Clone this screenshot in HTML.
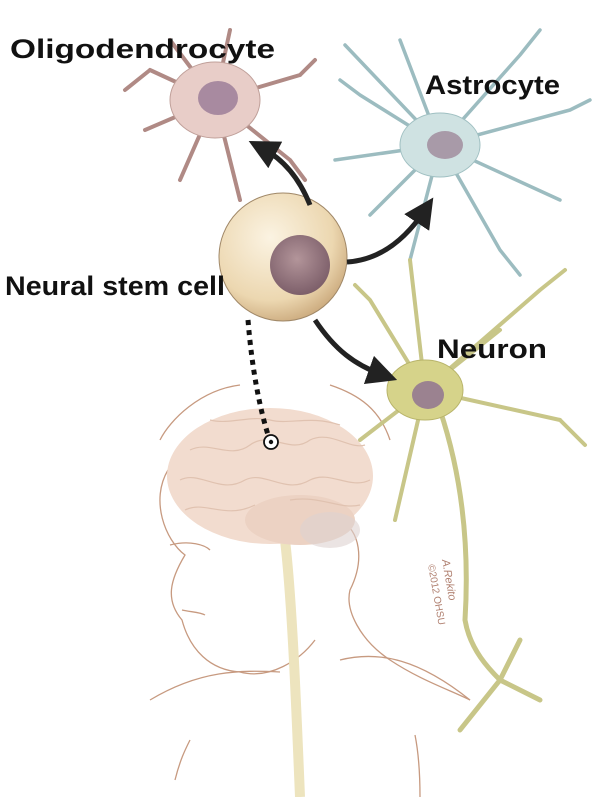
<!DOCTYPE html>
<html><head><meta charset="utf-8"><style>
html,body{margin:0;padding:0;background:#fff;}
svg{display:block}
text{font-family:"Liberation Sans",sans-serif;font-weight:bold;fill:#111}
</style></head><body>
<svg width="600" height="797" viewBox="0 0 600 797" xmlns="http://www.w3.org/2000/svg">
<defs>
<radialGradient id="sc" cx="0.4" cy="0.35" r="0.7"><stop offset="0" stop-color="#fbf3e2"/><stop offset="0.7" stop-color="#ecd7b0"/><stop offset="1" stop-color="#c9a77a"/></radialGradient>
<radialGradient id="nu" cx="0.45" cy="0.4" r="0.6"><stop offset="0" stop-color="#b3959a"/><stop offset="1" stop-color="#7d5f6a"/></radialGradient>
<marker id="ah" markerWidth="6" markerHeight="6" refX="3" refY="3" orient="auto" markerUnits="strokeWidth"><path d="M0,0 L6,3 L0,6 Z" fill="#222"/></marker>
</defs>
<g fill="none" stroke="#c79a80" stroke-width="1.3">
<path d="M168,470 C150,500 165,540 185,555 C170,580 165,600 182,620 C190,650 210,670 240,672 C270,680 300,660 315,640"/>
<path d="M340,520 C360,530 365,560 350,590 C345,610 360,640 390,660 C420,680 450,690 470,700"/>
<path d="M150,700 C200,670 240,670 280,672 M340,660 C380,650 420,660 470,700"/>
<path d="M175,780 C180,760 185,750 190,740 M420,797 C420,770 418,750 415,735"/>
<path d="M170,545 C190,540 205,545 210,550 M182,610 C190,612 200,612 205,615"/>
<path d="M160,440 C170,420 200,390 240,385 M330,385 C360,395 380,410 390,440"/>
</g>
<path d="M285,540 C292,600 296,700 300,797" stroke="#ede4be" stroke-width="10" fill="none"/>
<ellipse cx="270" cy="476" rx="103" ry="68" fill="#f2dccf"/>
<ellipse cx="300" cy="520" rx="55" ry="25" fill="#ecd2c3"/>
<g fill="none" stroke="#e0c2b0" stroke-width="1.2">
<path d="M190,450 C210,440 230,460 250,445 C270,430 290,455 310,440 C330,430 350,450 365,445"/>
<path d="M180,480 C200,470 220,495 245,480 C265,470 285,495 310,480 C330,470 350,490 370,480"/>
<path d="M185,510 C205,500 225,520 255,505 M290,500 C320,495 340,510 360,505"/>
<path d="M210,420 C230,425 250,415 270,420 C290,425 310,415 340,425"/>
</g>
<ellipse cx="330" cy="530" rx="30" ry="18" fill="#ddd2d0" opacity="0.6"/>
<text x="442" y="560" transform="rotate(80 442 560)" style="font-weight:normal;font-style:italic;font-size:11px;fill:#b08070">A.Rekito</text>
<text x="428" y="565" transform="rotate(80 428 565)" style="font-weight:normal;font-size:10px;fill:#b08070">©2012 OHSU</text>
<g stroke="#b08a85" stroke-width="4" fill="none" stroke-linecap="round">
<path d="M215,100 L150,70 M215,100 L145,130 M215,100 L180,180 M215,100 L240,200 M215,100 L290,160 M215,100 L300,75 M215,100 L230,30 M215,100 L170,40 M150,70 L125,90 M300,75 L315,60 M290,160 L305,180"/>
</g>
<ellipse cx="215" cy="100" rx="45" ry="38" fill="#e8cdc8" stroke="#c0a09a"/>
<ellipse cx="218" cy="98" rx="20" ry="17" fill="#a88aa0"/>
<g stroke="#9cbcc0" stroke-width="3.5" fill="none" stroke-linecap="round">
<path d="M440,145 L360,95 M440,145 L335,160 M440,145 L370,215 M440,145 L410,260 M440,145 L500,250 M440,145 L560,200 M440,145 L570,110 M440,145 L520,55 M440,145 L400,40 M440,145 L345,45 M360,95 L340,80 M500,250 L520,275 M570,110 L590,100 M520,55 L540,30"/>
</g>
<ellipse cx="440" cy="145" rx="40" ry="32" fill="#cfe2e2" stroke="#a0c0c2"/>
<ellipse cx="445" cy="145" rx="18" ry="14" fill="#a89aa8"/>
<g stroke="#c8c688" stroke-width="4" fill="none" stroke-linecap="round">
<path d="M425,390 L370,300 M425,390 L360,440 M425,390 L395,520 M425,390 L500,330 M425,390 L560,420 M425,390 L540,290 M425,390 L410,260 M370,300 L355,285 M560,420 L585,445 M540,290 L565,270"/>
<path d="M440,410 C460,470 470,540 465,620 C470,650 490,670 500,680 M500,680 L460,730 M500,680 L540,700 M500,680 L520,640" stroke-width="5"/>
</g>
<ellipse cx="425" cy="390" rx="38" ry="30" fill="#d6d38a" stroke="#b8b46a"/>
<ellipse cx="428" cy="395" rx="16" ry="14" fill="#9b8290"/>
<circle cx="283" cy="257" r="64" fill="url(#sc)" stroke="#a08868" stroke-width="1"/>
<circle cx="300" cy="265" r="30" fill="url(#nu)"/>
<g stroke="#222" stroke-width="5" fill="none">
<path d="M310,205 C300,180 285,160 262,148" marker-end="url(#ah)"/>
<path d="M347,262 C380,260 405,240 425,210" marker-end="url(#ah)"/>
<path d="M315,320 C335,350 355,365 383,375" marker-end="url(#ah)"/>
</g>
<path d="M248,320 C252,370 260,410 269,438" stroke="#111" stroke-width="5" stroke-dasharray="5,5" fill="none"/>
<circle cx="271" cy="442" r="7" fill="#fff" stroke="#111" stroke-width="1.8"/>
<circle cx="271" cy="442" r="2.2" fill="#111"/>
<text x="10" y="58" font-size="27" textLength="265" lengthAdjust="spacingAndGlyphs">Oligodendrocyte</text>
<text x="425" y="94" font-size="27" textLength="135" lengthAdjust="spacingAndGlyphs">Astrocyte</text>
<text x="5" y="295" font-size="27" textLength="220" lengthAdjust="spacingAndGlyphs">Neural stem cell</text>
<text x="437" y="358" font-size="27" textLength="110" lengthAdjust="spacingAndGlyphs">Neuron</text>
</svg>
</body></html>
